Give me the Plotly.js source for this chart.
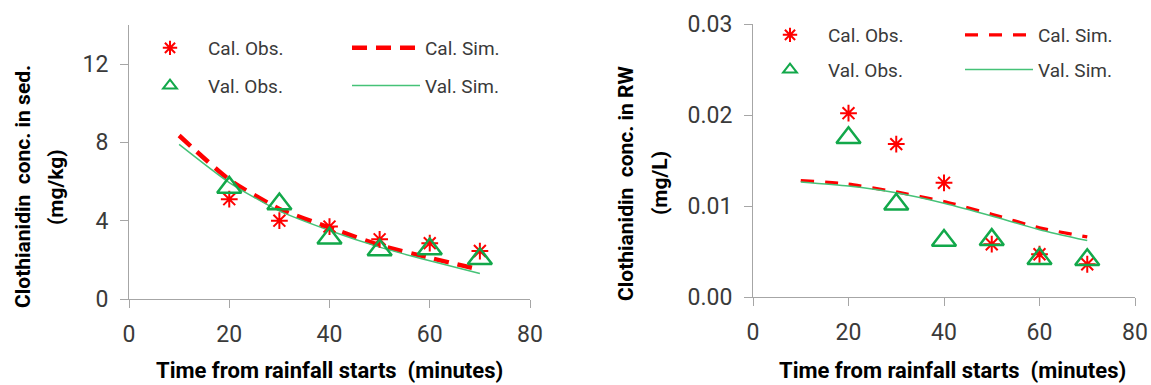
<!DOCTYPE html>
<html>
<head>
<meta charset="utf-8">
<script src="https://cdn.plot.ly/plotly-3.0.1.min.js"></script>
<style>
html,body{margin:0;padding:0;background:#fff;}
#chart{width:1151px;height:385px;}
</style>
</head>
<body>
<div id="chart"></div>
<script>
// ---- data ----
const obsTime = [20, 30, 40, 50, 60, 70];
const simTime = [10, 20, 30, 40, 50, 60, 70];

// Left panel: sediment (mg/kg)
const sedCalObs = [5.1, 4.0, 3.7, 3.05, 2.85, 2.45];
const sedValObs = [5.7, 4.85, 3.1, 2.5, 2.55, 2.05];
const sedCalSim = [8.35, 6.1, 4.6, 3.65, 2.75, 2.1, 1.5];
const sedValSim = [7.9, 5.95, 4.5, 3.5, 2.65, 1.95, 1.3];

// Right panel: runoff water (mg/L)
const rwCalObs = [0.0202, 0.0168, 0.01255, 0.0058, 0.0047, 0.0036];
const rwValObs = [0.0175, 0.0102, 0.0062, 0.0063, 0.0042, 0.0041];
const rwCalSim = [0.0128, 0.0124, 0.01155, 0.0105, 0.0091, 0.0076, 0.0066];
const rwValSim = [0.01265, 0.0122, 0.01145, 0.0103, 0.0089, 0.0074, 0.0062];

const names = {calObs: 'Cal. Obs.', valObs: 'Val. Obs.', calSim: 'Cal. Sim.', valSim: 'Val. Sim.'};
const xTicks = [0, 20, 40, 60, 80];
const sedTicks = [0, 4, 8, 12];
const rwTicks = [0, 0.01, 0.02, 0.03];
const xTitle = 'Time from rainfall starts\u00a0 (minutes)';
const sedTitle1 = 'Clothianidin\u00a0 conc. in sed.';
const sedTitle2 = '(mg/kg)';
const rwTitle1 = 'Clothianidin\u00a0 conc. in RW';
const rwTitle2 = '(mg/L)';

// ---- styles ----
const RED = '#ff0000';
const GREEN_M = '#12a84a';
const GREEN_L = '#45c277';
const AX = '#a6a6a6';
const TXT = '#3a3a3a';

function panel(xa, ya, calObs, valObs, calSim, valSim, lgObs, lgSim, tag, dashW, dashPat) {
  return [
    {x: simTime, y: calSim, xaxis: xa, yaxis: ya, mode: 'lines', name: names.calSim,
     legend: lgSim, legendgroup: tag + 'cs', legendrank: 1,
     line: {color: RED, width: dashW, dash: dashPat, shape: 'spline', smoothing: 0.6}},
    {x: simTime, y: valSim, xaxis: xa, yaxis: ya, mode: 'lines', name: names.valSim,
     legend: lgSim, legendgroup: tag + 'vs', legendrank: 2,
     line: {color: GREEN_L, width: 1.5, shape: 'spline', smoothing: 0.6}},
    {x: obsTime, y: calObs, xaxis: xa, yaxis: ya, mode: 'markers', name: names.calObs,
     legend: lgObs, legendgroup: tag + 'co', legendrank: 1,
     marker: {symbol: 'asterisk-open', size: 14, color: RED, line: {color: RED, width: 2}}},
    {x: obsTime, y: valObs, xaxis: xa, yaxis: ya, mode: 'markers', name: names.valObs,
     legend: lgObs, legendgroup: tag + 'vo', legendrank: 2,
     marker: {symbol: 'triangle-up-open', size: 21, color: GREEN_M, line: {color: GREEN_M, width: 2.5}}}
  ];
}

const data = [].concat(
  panel('x', 'y', sedCalObs, sedValObs, sedCalSim, sedValSim, 'legend', 'legend2', 'L', 4.5, '15px,9px'),
  panel('x2', 'y2', rwCalObs, rwValObs, rwCalSim, rwValSim, 'legend3', 'legend4', 'R', 3.2, '13px,11px')
);

const W = 1151, H = 385;
const px = v => v / W;
const py = v => 1 - v / H;

function axisBase(isY) {
  return {showline: true, linecolor: AX, linewidth: 1, ticks: 'outside', ticklen: 8,
          tickcolor: AX, tickwidth: 1, showgrid: false, zeroline: false,
          ticklabelstandoff: isY ? 7 : 6,
          tickfont: {family: 'Roboto', size: 23, color: TXT}, fixedrange: true};
}

function legendBase(x, y, gap, sizing, iw) {
  return {x: px(x), y: py(y), xanchor: 'left', yanchor: 'top', bgcolor: 'rgba(0,0,0,0)',
          borderwidth: 0, orientation: 'v', traceorder: 'grouped', tracegroupgap: gap,
          itemwidth: iw, itemsizing: sizing,
          font: {family: 'Roboto', size: 19, color: TXT}};
}

const titleFont = {family: 'Roboto', size: 21, color: '#000', weight: 'bold'};
const xTitleFont = {family: 'Roboto', size: 22, color: '#000', weight: 'bold'};

const layout = {
  width: W, height: H,
  margin: {l: 0, r: 0, t: 0, b: 0},
  paper_bgcolor: '#ffffff', plot_bgcolor: '#ffffff',
  showlegend: true,
  xaxis: Object.assign(axisBase(false), {domain: [px(129), px(530)], range: [0, 80], tickvals: xTicks, anchor: 'y'}),
  yaxis: Object.assign(axisBase(true), {domain: [py(299), py(24.9)], range: [0, 14], tickvals: sedTicks, anchor: 'x'}),
  xaxis2: Object.assign(axisBase(false), {domain: [px(753), px(1135)], range: [0, 80], tickvals: xTicks, anchor: 'y2'}),
  yaxis2: Object.assign(axisBase(true), {domain: [py(297), py(24)], range: [0, 0.03], tickvals: rwTicks, tickformat: '.2f', anchor: 'x2'}),
  legend: legendBase(132, 29, 10, 'constant', 66),
  legend2: legendBase(347, 29, 10, 'trace', 68),
  legend3: legendBase(752, 16, 7, 'constant', 66),
  legend4: legendBase(960, 16, 7, 'trace', 68),
  annotations: [
    {text: xTitle, xref: 'paper', yref: 'paper', x: px(330), y: py(370), showarrow: false,
     xanchor: 'center', yanchor: 'middle', font: xTitleFont},
    {text: xTitle, xref: 'paper', yref: 'paper', x: px(952), y: py(370), showarrow: false,
     xanchor: 'center', yanchor: 'middle', font: xTitleFont},
    {text: sedTitle1, xref: 'paper', yref: 'paper', x: px(23), y: py(187), textangle: -90, showarrow: false,
     xanchor: 'center', yanchor: 'middle', font: titleFont},
    {text: sedTitle2, xref: 'paper', yref: 'paper', x: px(56), y: py(187), textangle: -90, showarrow: false,
     xanchor: 'center', yanchor: 'middle', font: titleFont},
    {text: rwTitle1, xref: 'paper', yref: 'paper', x: px(626), y: py(183), textangle: -90, showarrow: false,
     xanchor: 'center', yanchor: 'middle', font: titleFont},
    {text: rwTitle2, xref: 'paper', yref: 'paper', x: px(660), y: py(183), textangle: -90, showarrow: false,
     xanchor: 'center', yanchor: 'middle', font: titleFont}
  ]
};

Plotly.newPlot('chart', data, layout, {displayModeBar: false, staticPlot: true});
</script>
</body>
</html>
